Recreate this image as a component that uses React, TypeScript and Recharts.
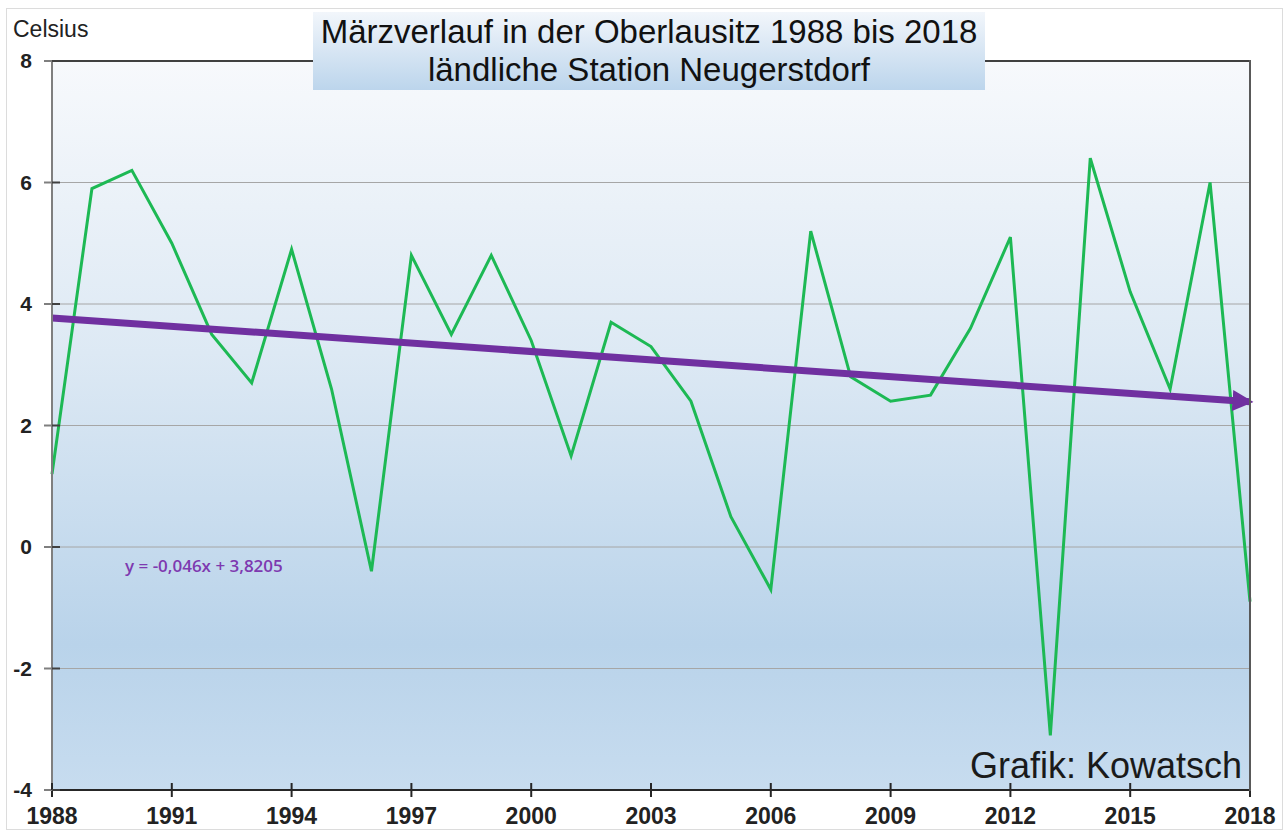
import React from 'react';
import { LineChart, Line, XAxis, YAxis, CartesianGrid, ReferenceLine } from 'recharts';

// Märzmittel Neugerstdorf
const years = [
  1988, 1989, 1990, 1991, 1992, 1993, 1994, 1995, 1996, 1997, 1998,
  1999, 2000, 2001, 2002, 2003, 2004, 2005, 2006, 2007, 2008, 2009,
  2010, 2011, 2012, 2013, 2014, 2015, 2016, 2017, 2018,
];
const temps = [
  1.2, 5.9, 6.2, 5.0, 3.5, 2.7, 4.9, 2.6, -0.4, 4.8, 3.5,
  4.8, 3.4, 1.5, 3.7, 3.3, 2.4, 0.5, -0.7, 5.2, 2.8, 2.4,
  2.5, 3.6, 5.1, -3.1, 6.4, 4.2, 2.6, 6.0, -0.9,
];
// Trendlinie: Endpunkte
const trendYears = [1988, 2018];
const trendValues = [3.77, 2.39];

const xTicks = [1988, 1991, 1994, 1997, 2000, 2003, 2006, 2009, 2012, 2015, 2018];
const yTicks = [-4, -2, 0, 2, 4, 6, 8];

const data = years.map((year, i) => {
  const t = trendYears.indexOf(year);
  return { year, temp: temps[i], trend: t >= 0 ? trendValues[t] : null };
});

const FONT = '"Liberation Sans", Arial, sans-serif';
const X_TICK = 7;
const X_GAP = 11;
const Y_TICK = 8;
const Y_GAP = 12;

// Tick mit Strich auch nach innen
const XTick = (props: any) => {
  const { x, y, payload } = props;
  const axisY = y - X_TICK - X_GAP;
  return (
    <g>
      <line x1={x} x2={x} y1={axisY - X_TICK} y2={axisY} stroke="#262626" strokeWidth={2} />
      <text x={x} y={y} dy="0.71em" textAnchor="middle" fill="#222" fontSize={23} fontWeight="bold" fontFamily={FONT}>
        {payload.value}
      </text>
    </g>
  );
};

const YTick = (props: any) => {
  const { x, y, payload } = props;
  const axisX = x + Y_TICK + Y_GAP;
  return (
    <g>
      <line x1={axisX} x2={axisX + Y_TICK} y1={y} y2={y} stroke="#404040" strokeWidth={2} />
      <text x={x} y={y} dy="0.355em" textAnchor="end" fill="#222" fontSize={21} fontWeight="bold" fontFamily={FONT}>
        {payload.value}
      </text>
    </g>
  );
};

export default function App() {
  return (
    <div style={{ position: 'absolute', left: 0, top: 0, width: 1285, height: 832, background: '#fff', fontFamily: FONT }}>
      <div style={{ position: 'absolute', left: 6, top: 8, width: 1277, height: 822, border: '1px solid #dcdcdc', boxSizing: 'border-box' }} />
      <LineChart
        width={1285}
        height={832}
        data={data}
        margin={{ top: 61, right: 35, left: 0, bottom: 0 }}
      >
        <defs>
          <linearGradient id="bg" x1="0" y1="0" x2="0" y2="1">
            <stop offset="0%" stopColor="#f7f9fc" />
            <stop offset="40%" stopColor="#dde9f4" />
            <stop offset="80%" stopColor="#b9d3ea" />
            <stop offset="100%" stopColor="#c7dcef" />
          </linearGradient>
          <marker id="arrow" markerWidth="3" markerHeight="3" refX="2.5" refY="1.5" orient="auto" markerUnits="strokeWidth">
            <path d="M0,0 L3,1.5 L0,3 Z" fill="#7030a0" />
          </marker>
        </defs>
        <CartesianGrid
          vertical={false}
          stroke="#a6a6a6"
          strokeWidth={1}
          fill="url(#bg)"
          fillOpacity={1}
        />
        <XAxis
          dataKey="year"
          type="number"
          domain={[1988, 2018]}
          ticks={xTicks}
          height={42}
          stroke="#262626"
          strokeWidth={2}
          tickSize={X_TICK}
          tickMargin={X_GAP}
          tick={<XTick />}
        />
        <YAxis
          type="number"
          domain={[-4, 8]}
          ticks={yTicks}
          width={52}
          stroke="#7f7f7f"
          strokeWidth={2}
          tickSize={Y_TICK}
          tickMargin={Y_GAP}
          tick={<YTick />}
        />
        <ReferenceLine y={8} stroke="#404040" strokeWidth={2} />
        <Line
          type="linear"
          dataKey="temp"
          stroke="#1db954"
          strokeWidth={3}
          dot={false}
          isAnimationActive={false}
        />
        <Line
          type="linear"
          dataKey="trend"
          stroke="#7030a0"
          strokeWidth={7}
          dot={false}
          connectNulls
          markerEnd="url(#arrow)"
          isAnimationActive={false}
        />
      </LineChart>
      <div style={{ position: 'absolute', left: 1249, top: 60, width: 2, height: 731, background: '#595959' }} />
      <div style={{ position: 'absolute', left: 13, top: 16, fontSize: 23, color: '#222' }}>Celsius</div>
      <div
        style={{
          position: 'absolute', left: 313, top: 12, width: 672, height: 78,
          background: 'linear-gradient(#f2f6fb, #bcd5ec)',
          textAlign: 'center', fontSize: 33, lineHeight: '38px', color: '#111', paddingTop: 1, boxSizing: 'border-box',
          whiteSpace: 'nowrap',
        }}
      >
        Märzverlauf in der Oberlausitz 1988 bis 2018
        <br />
        ländliche Station Neugerstdorf
      </div>
      <div style={{ position: 'absolute', left: 125, top: 554, fontSize: 17, fontWeight: 600, color: '#7e3ab0', fontFamily: '"Open Sans", sans-serif' }}>
        y = -0,046x + 3,8205
      </div>
      <div style={{ position: 'absolute', left: 970, top: 745, fontSize: 36, color: '#1a1a1a' }}>Grafik: Kowatsch</div>
    </div>
  );
}
